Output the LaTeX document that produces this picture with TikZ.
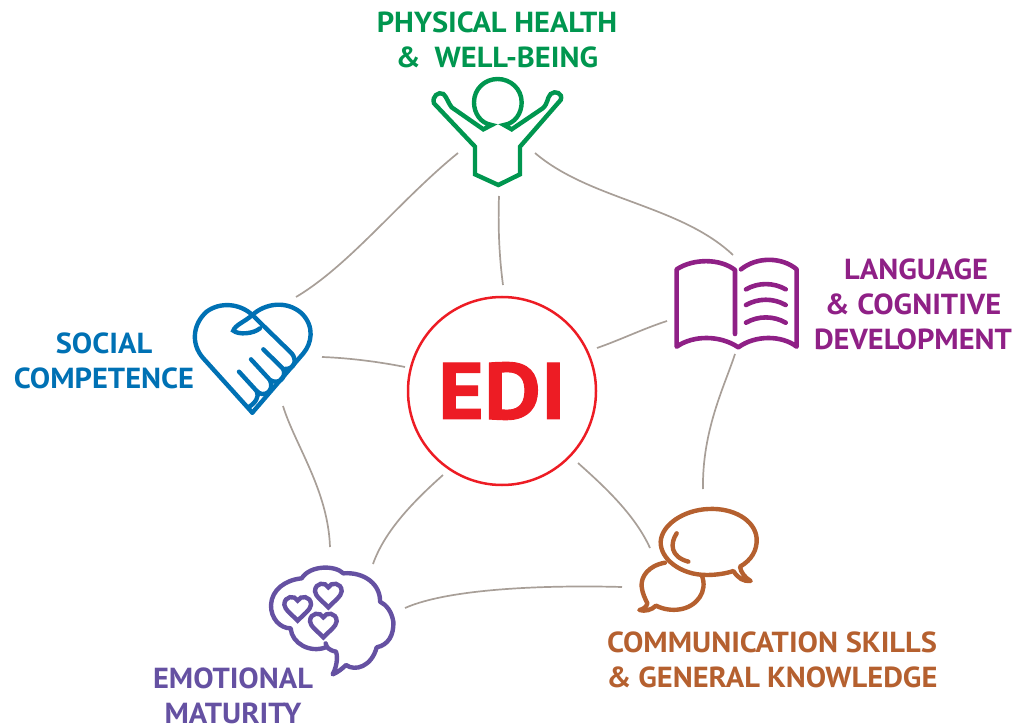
\documentclass[tikz,border=0pt]{standalone}
\usepackage{fontspec}
\setmainfont{PT Sans}[FakeStretch=1.05]
\newfontfamily\edifont{PT Sans}[FakeStretch=1.1,FakeBold=1.2]
\definecolor{cgreen}{HTML}{00964F}
\definecolor{cblue}{HTML}{0071B4}
\definecolor{cpurple}{HTML}{8F2086}
\definecolor{cbrown}{HTML}{B5602F}
\definecolor{cviolet}{HTML}{6551A2}
\definecolor{cred}{HTML}{ED1C24}
\definecolor{cgrey}{HTML}{A89F98}
\tikzset{
  label text/.style={font=\fontsize{29}{35}\selectfont\bfseries,align=center,inner sep=0pt},
  icon/.style={line width=4.4pt,line cap=round,line join=round},
  link/.style={draw=cgrey,line width=1.7pt}
}
\begin{document}
\begin{tikzpicture}[x=1pt,y=-1pt]
\useasboundingbox (0,0) rectangle (1012,727);
% centre
\node[circle,draw=cred,line width=2.5pt,minimum size=188pt,inner sep=0pt,text=cred,font=\edifont\fontsize{80}{80}\selectfont\bfseries] (edi) at (502,391) {EDI};
% labels
\node[label text,text=cgreen] (lhealth) at (497,39.5) {PHYSICAL HEALTH\\\&\hspace{14pt}WELL-BEING};
\node[label text,text=cblue] (lsocial) at (104,360.5) {SOCIAL\\COMPETENCE};
\node[label text,text=cpurple] (llang) at (913,304) {\hspace*{6pt}LANGUAGE\\\& COGNITIVE\hspace*{8pt}\\DEVELOPMENT};
\node[label text,text=cbrown] (lcomm) at (772,659.5) {COMMUNICATION SKILLS\\\&\hspace{7pt}GENERAL\hspace{7pt}KNOWLEDGE};
\node[label text,text=cviolet] (lemo) at (233,696) {EMOTIONAL\\MATURITY};
% connector ends
\coordinate (h1) at (458,153); \coordinate (s1) at (296,297);
\coordinate (h2) at (499,196); \coordinate (e1) at (503,285);
\coordinate (h3) at (535,153); \coordinate (b1) at (733,255);
\coordinate (b2) at (667,321); \coordinate (e2) at (597,348);
\coordinate (b3) at (735,354); \coordinate (c1) at (703,489);
\coordinate (e3) at (578,463); \coordinate (c2) at (650,548);
\coordinate (e4) at (443,475); \coordinate (m1) at (373,564);
\coordinate (s2) at (322,357); \coordinate (e5) at (405,367);
\coordinate (s3) at (283,406); \coordinate (m2) at (330,547);
\coordinate (m3) at (405,608); \coordinate (c3) at (622,587);
\draw[link] (h1) .. controls (400,200) and (350,265) .. (s1);
\draw[link] (h2) .. controls (498,225) and (499,255) .. (e1);
\draw[link] (h3) .. controls (590,200) and (680,205) .. (b1);
\draw[link] (b2) .. controls (645,328) and (620,340) .. (e2);
\draw[link] (b3) .. controls (725,385) and (702,430) .. (c1);
\draw[link] (e3) .. controls (605,487) and (635,515) .. (c2);
\draw[link] (e4) .. controls (415,500) and (385,530) .. (m1);
\draw[link] (s2) .. controls (350,358) and (380,362) .. (e5);
\draw[link] (s3) .. controls (295,445) and (328,490) .. (m2);
\draw[link] (m3) .. controls (450,588) and (550,585) .. (c3);
% person
\begin{scope}[shift={(420,75)},scale=1/3,draw=cgreen]
\draw[icon,line join=miter] (215,150) -- (190,163) -- (95,97) .. controls (85,85) and (80,65) .. (70,57) .. controls (55,48) and (35,65) .. (42,85) -- (165,215) -- (165,298) -- (235,330) -- (300,298) -- (300,215) -- (422,75) .. controls (430,55) and (405,45) .. (392,57) .. controls (380,70) and (385,85) .. (368,100) -- (275,163) -- (252,150) .. controls (285,145) and (305,115) .. (305,82) .. controls (305,42) and (272,12) .. (233,12) .. controls (194,12) and (162,42) .. (162,82) .. controls (162,115) and (182,145) .. (215,150) -- cycle;
\end{scope}
% heart
\begin{scope}[shift={(180,290)},scale=1/3,draw=cblue]
\draw[icon,line join=miter] (217,368) -- (70,205) .. controls (30,160) and (40,100) .. (80,65) .. controls (120,35) and (180,40) .. (217,75) -- (335,190) .. controls (352,210) and (345,240) .. (310,237) -- (250,178);
\draw[icon,line join=miter] (240,115) .. controls (220,132) and (175,135) .. (160,122) .. controls (165,105) and (195,95) .. (217,75) .. controls (255,40) and (320,30) .. (365,70) .. controls (405,110) and (395,160) .. (370,190) -- (217,368);
\draw[icon] (310,237) .. controls (320,265) and (295,285) .. (270,270) -- (213,208);
\draw[icon] (270,270) .. controls (285,305) and (250,325) .. (230,303) -- (177,245);
\draw[icon] (230,303) .. controls (240,320) and (225,340) .. (205,352);
\end{scope}
% book
\begin{scope}[shift={(660,250)},scale=1/3,draw=cpurple]
\draw[icon,line width=4.6pt] (225,252) -- (225,60) .. controls (180,25) and (100,25) .. (50,58) -- (50,290) .. controls (100,255) and (180,255) .. (235,292) .. controls (285,255) and (365,255) .. (410,290) -- (410,58) .. controls (365,20) and (290,20) .. (243,58);
\draw[icon,line width=4.6pt] (258,118) .. controls (295,97) and (340,97) .. (377,118);
\draw[icon,line width=4.6pt] (258,165) .. controls (295,144) and (340,144) .. (377,165);
\draw[icon,line width=4.6pt] (258,218) .. controls (295,197) and (340,197) .. (377,218);
\end{scope}
% speech bubbles
\begin{scope}[shift={(630,495)},scale=1/3,draw=cbrown]
\draw[icon] (310,228) .. controls (325,250) and (340,260) .. (362,258) .. controls (345,248) and (332,232) .. (330,215) .. controls (365,195) and (382,165) .. (380,130) .. controls (375,75) and (310,38) .. (235,42) .. controls (160,45) and (95,90) .. (92,140) .. controls (90,190) and (150,240) .. (230,240) .. controls (260,240) and (290,235) .. (310,228) -- cycle;
\draw[icon] (140,115) .. controls (120,145) and (120,185) .. (175,200);
\draw[icon] (105,203) .. controls (55,212) and (32,245) .. (35,275) .. controls (37,295) and (45,310) .. (52,325) .. controls (50,335) and (40,343) .. (28,345) .. controls (45,350) and (65,345) .. (78,332) .. controls (100,343) and (125,347) .. (150,343) .. controls (200,335) and (235,290) .. (215,240);
\end{scope}
% brain
\begin{scope}[shift={(260,560)},scale=1/3,draw=cviolet]
\draw[icon] (197,250) .. controls (200,262) and (205,270) .. (228,275) .. controls (235,295) and (228,325) .. (218,343) .. controls (232,338) and (248,325) .. (258,315) .. controls (285,335) and (335,320) .. (350,262) .. controls (385,255) and (402,225) .. (400,185) .. controls (395,155) and (380,135) .. (360,125) .. controls (362,75) and (315,35) .. (250,40) .. controls (225,15) and (150,15) .. (125,55) .. controls (75,60) and (35,90) .. (33,135) .. controls (32,175) and (60,205) .. (92,205) .. controls (95,250) and (150,280) .. (197,262);
\foreach \hx/\hy in {113/122,205/82,190/172}
  \draw[icon,line join=miter,shift={(\hx,\hy)}] (0,0) .. controls (-8,-17) and (-40,-15) .. (-40,12) .. controls (-40,26) and (-15,44) .. (0,60) .. controls (15,44) and (40,26) .. (40,12) .. controls (40,-15) and (8,-17) .. (0,0) -- cycle;
\end{scope}
\end{tikzpicture}
\end{document}
